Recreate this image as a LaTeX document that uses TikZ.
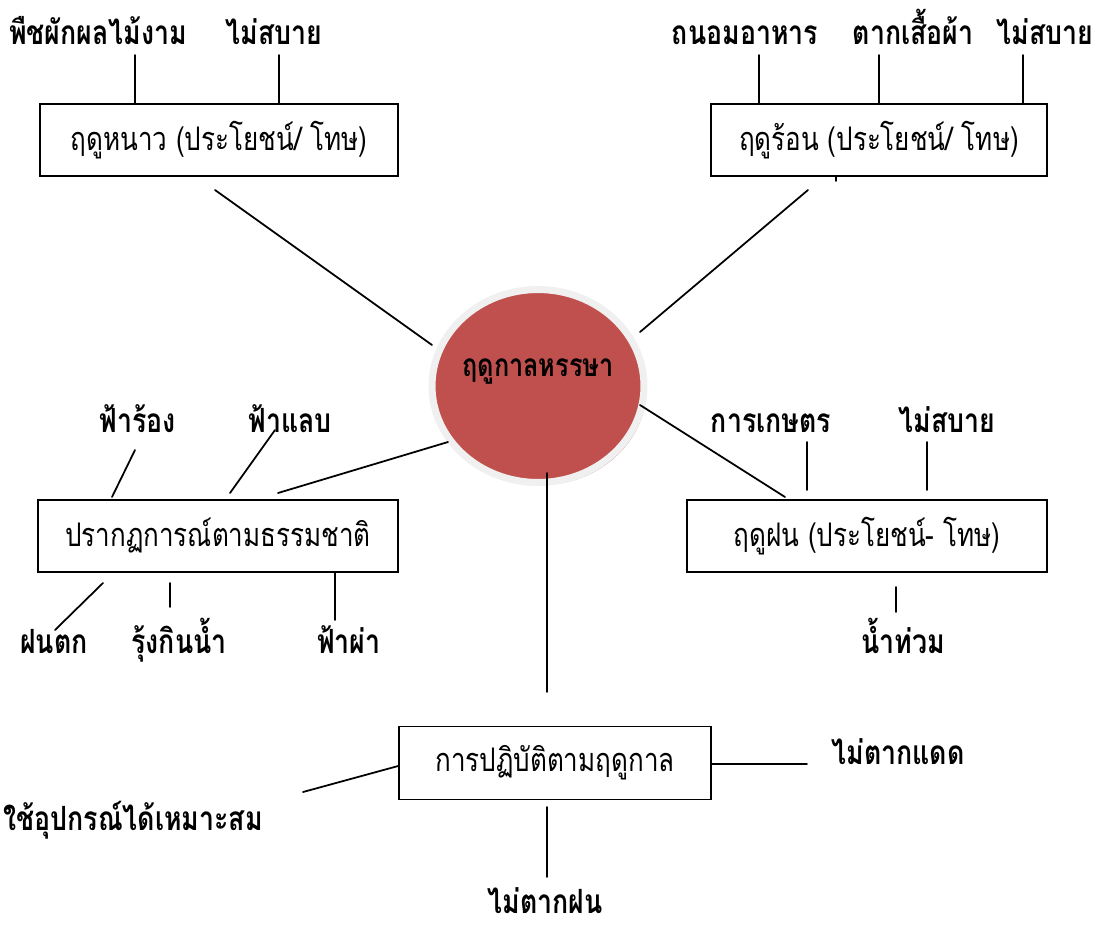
\documentclass[tikz,border=0pt]{standalone}
\usepackage{fontspec}
\newfontfamily\thaifont[Script=Thai, FakeStretch=0.8]{Loma}
\usetikzlibrary{shapes.geometric, positioning, shadows}
\definecolor{hubred}{HTML}{C0504D}
\tikzstyle{hub} = [ellipse, minimum width=4.24cm, minimum height=3.86cm, inner sep=0pt, fill=hubred, draw=gray!12, line width=4pt, text depth=0.72cm, font=\thaifont\bfseries\fontsize{18}{21}\selectfont, drop shadow={shadow xshift=1.5pt, shadow yshift=-1.5pt, fill=hubred!60!gray, opacity=0.7}]
\tikzstyle{topic} = [rectangle, minimum height=1.44cm, draw=black, line width=1pt, font=\thaifont\fontsize{18.5}{21}\selectfont]
\tikzstyle{leaf} = [anchor=base, inner sep=0pt, font=\thaifont\bfseries\fontsize{19}{22}\selectfont]
\tikzstyle{link} = [line width=1pt, line cap=round]

\begin{document}
\begin{tikzpicture}[x=0.02cm, y=-0.02cm]
\useasboundingbox (0,0) rectangle (1105,930);

% centre
\node (seasons) [hub] at (538,386) {\makebox[0pt]{ฤดูกาลหรรษา}};

% topics
\node (winter) [topic, minimum width=7.16cm] at (219,140) {ฤดูหนาว (ประโยชน์/ โทษ)};
\node (summer) [topic, minimum width=6.72cm] at (879,140) {ฤดูร้อน (ประโยชน์/ โทษ)};
\node (nature) [topic, minimum width=7.2cm] at (218,536) {ปรากฏการณ์ตามธรรมชาติ};
\node (rainy) [topic, minimum width=7.2cm] at (867,536) {ฤดูฝน (ประโยชน์- โทษ)};
\node (practice) [topic, minimum width=6.24cm, minimum height=1.46cm, text depth=0.2cm] at (555,763) {การปฏิบัติตามฤดูกาล};

% labels
\node (plants) [leaf] at (98,44) {พืชผักผลไม้งาม};
\node (winterSick) [leaf] at (274,44) {ไม่สบาย};
\node (preserve) [leaf] at (745,44) {ถนอมอาหาร};
\node (drying) [leaf] at (913,44) {ตากเสื้อผ้า};
\node (summerSick) [leaf] at (1045,44) {ไม่สบาย};
\node (thunder) [leaf] at (138,432) {ฟ้าร้อง};
\node (lightning) [leaf] at (290,432) {ฟ้าแลบ};
\node (farming) [leaf] at (771,432) {การเกษตร};
\node (rainySick) [leaf] at (947,432) {ไม่สบาย};
\node (rainfall) [leaf] at (54,653) {ฝนตก};
\node (rainbow) [leaf] at (179,653) {รุ้งกินน้ำ};
\node (strike) [leaf] at (349,653) {ฟ้าผ่า};
\node (flood) [leaf] at (903,653) {น้ำท่วม};
\node (noSun) [leaf] at (898,764) {ไม่ตากแดด};
\node (gear) [leaf] at (133,830) {ใช้อุปกรณ์ได้เหมาะสม};
\node (noRain) [leaf] at (545,913) {ไม่ตากฝน};

% free ends
\coordinate (wA) at (135,55);
\coordinate (wB) at (279,55);
\coordinate (wHub) at (432,345);
\coordinate (wOut) at (215,190);
\coordinate (sA) at (759,55);
\coordinate (sB) at (879,55);
\coordinate (sC) at (1023,55);
\coordinate (sTick) at (836,181);
\coordinate (sOut) at (808,190);
\coordinate (sHub) at (640,332);
\coordinate (nThunder) at (135,450);
\coordinate (nThunderIn) at (112,497);
\coordinate (nLight) at (275,430);
\coordinate (nLightIn) at (230,493);
\coordinate (nHub) at (448,442);
\coordinate (nIn) at (278,493);
\coordinate (nRainA) at (103,583);
\coordinate (nRainB) at (55,630);
\coordinate (nBowA) at (170,583);
\coordinate (nBowB) at (170,607);
\coordinate (nStrike) at (335,620);
\coordinate (rHub) at (640,405);
\coordinate (rIn) at (785,497);
\coordinate (rFarmA) at (807,442);
\coordinate (rFarmB) at (807,490);
\coordinate (rSickA) at (927,442);
\coordinate (rSickB) at (927,490);
\coordinate (rFloodA) at (896,587);
\coordinate (rFloodB) at (896,612);
\coordinate (pHub) at (547,473);
\coordinate (pTop) at (547,692);
\coordinate (pSun) at (807,764);
\coordinate (pGear) at (303,792);
\coordinate (pRainA) at (547,807);
\coordinate (pRainB) at (547,877);

% winter
\draw[link] (wA) -- (wA |- winter.north);
\draw[link] (wB) -- (wB |- winter.north);
\draw[link] (wOut) -- (wHub);

% summer
\draw[link] (sA) -- (sA |- summer.north);
\draw[link] (sB) -- (sB |- summer.north);
\draw[link] (sC) -- (sC |- summer.north);
\draw[link] (sTick |- summer.south) -- (sTick);
\draw[link] (sOut) -- (sHub);

% nature
\draw[link] (nThunderIn) -- (nThunder);
\draw[link] (nLightIn) -- (nLight);
\draw[link] (nIn) -- (nHub);
\draw[link] (nRainA) -- (nRainB);
\draw[link] (nBowA) -- (nBowB);
\draw[link] (nStrike |- nature.south) -- (nStrike);

% rainy
\draw[link] (rHub) -- (rIn);
\draw[link] (rFarmA) -- (rFarmB);
\draw[link] (rSickA) -- (rSickB);
\draw[link] (rFloodA) -- (rFloodB);

% practice
\draw[link] (pHub) -- (pTop);
\draw[link] (practice.east |- pSun) -- (pSun);
\draw[link] (practice.west |- 0,766) -- (pGear);
\draw[link] (pRainA) -- (pRainB);

\end{tikzpicture}
\end{document}
